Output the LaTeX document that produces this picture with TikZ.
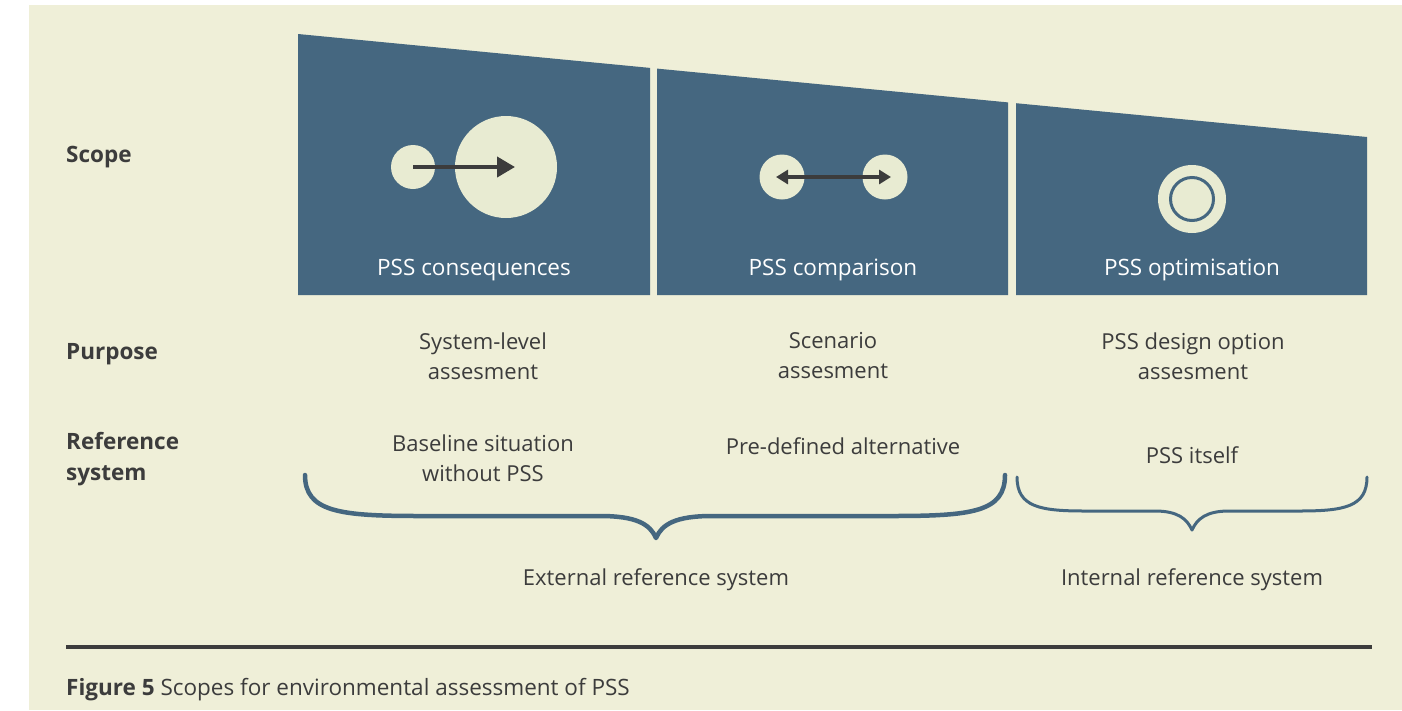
\documentclass[tikz,border=0pt]{standalone}
\usepackage{fontspec}
\setmainfont{Open Sans}
\usetikzlibrary{arrows.meta}

\definecolor{panelblue}{HTML}{456780}
\definecolor{cream}{HTML}{EFEFD8}
\definecolor{dotcream}{HTML}{E8EBD2}
\definecolor{darkgrey}{HTML}{3C3C3C}

\tikzset{
  rowlabel/.style={anchor=west, align=left, inner sep=0pt, text=darkgrey,
    font=\bfseries\fontsize{22.5}{31}\selectfont},
  paneltext/.style={text=white, inner sep=0pt, font=\fontsize{22.5}{27}\selectfont},
  celltext/.style={align=center, inner sep=0pt, text=darkgrey,
    font=\fontsize{22}{30}\selectfont},
  dot/.style={circle, fill=dotcream, inner sep=0pt},
  bracepath/.style={draw=panelblue, line cap=round, line join=round}
}

\begin{document}
\begin{tikzpicture}[x=1pt,y=-1pt]

	% page and background
	\useasboundingbox[fill=white] (0,0) rectangle (1402,710);
	\fill[cream] (29,5) rectangle (1402,710);

	% the three scope panels
	\fill[panelblue] (298,295) -- (298,34) -- (650,67.9) -- (650,295) -- cycle;
	\fill[panelblue] (657,295) -- (657,68.6) -- (1008,102.4) -- (1008,295) -- cycle;
	\fill[panelblue] (1016,295) -- (1016,103.2) -- (1367,137) -- (1367,295) -- cycle;

	% icons
	\node[dot, minimum size=44] (smallA) at (413,167) {};
	\node[dot, minimum size=102] (bigA) at (506,167) {};
	\draw[darkgrey, line width=4, -{Triangle[length=18,width=20]}]
        (smallA.center) -- ([xshift=9]bigA.center);

	\node[dot, minimum size=45] (leftB) at (782,177) {};
	\node[dot, minimum size=45] (rightB) at (885,177) {};
	\draw[darkgrey, line width=3.5, {Triangle[length=12,width=14]}-{Triangle[length=12,width=14]}]
        ([xshift=-6]leftB.center) -- ([xshift=6]rightB.center);

	\node[dot, minimum size=68] (ringC) at (1192,199) {};
	\draw[panelblue, line width=3] (ringC.center) circle(21.5);

	\node[paneltext] (scopeA) at (474,270) {PSS consequences};
	\node[paneltext] (scopeB) at (833,270) {PSS comparison};
	\node[paneltext] (scopeC) at (1192,270) {PSS optimisation};

	% row labels
	\node[rowlabel] (scope) at (66,157) {Scope};
	\node[rowlabel] (purpose) at (66,354) {Purpose};
	\node[rowlabel] (reference) at (66,459) {Reference\\system};

	% purpose and reference texts
	\node[celltext] (purposeA) at (483,356) {System-level\\assesment};
	\node[celltext] (purposeB) at (833,356) {Scenario\\assesment};
	\node[celltext] (purposeC) at (1193,356) {PSS design option\\assesment};

	\node[celltext] (refA) at (483,458) {Baseline situation\\without PSS};
	\node[celltext] (refB) at (843,446) {Pre-defined alternative};
	\node[celltext] (refC) at (1192,455) {PSS itself};

	% braces
	\draw[bracepath, line width=4.5] (305,475) .. controls (305,512) and (340,516) .. (420,516)
        -- (600,516) .. controls (636,516) and (650,524) .. (656,538)
        .. controls (662,524) and (676,516) .. (712,516) -- (892,516)
        .. controls (972,516) and (1005,512) .. (1005,475);
	\draw[bracepath, line width=3] (1017,477) .. controls (1017,507) and (1040,511) .. (1085,511)
        -- (1155,511) .. controls (1178,511) and (1187,519) .. (1192,530)
        .. controls (1197,519) and (1206,511) .. (1229,511) -- (1299,511)
        .. controls (1344,511) and (1367,507) .. (1367,477);

	\node[celltext] (external) at (656,580) {External reference system};
	\node[celltext] (internal) at (1192,580) {Internal reference system};

	% caption
	\draw[darkgrey, line width=3.5] (66,647) -- (1372,647);
	\node[anchor=west, inner sep=0pt, text=darkgrey, font=\fontsize{22.5}{26}\selectfont]
        (caption) at (66,690) {\textbf{Figure 5} Scopes for environmental assessment of PSS};
      \end{tikzpicture}
\end{document}
